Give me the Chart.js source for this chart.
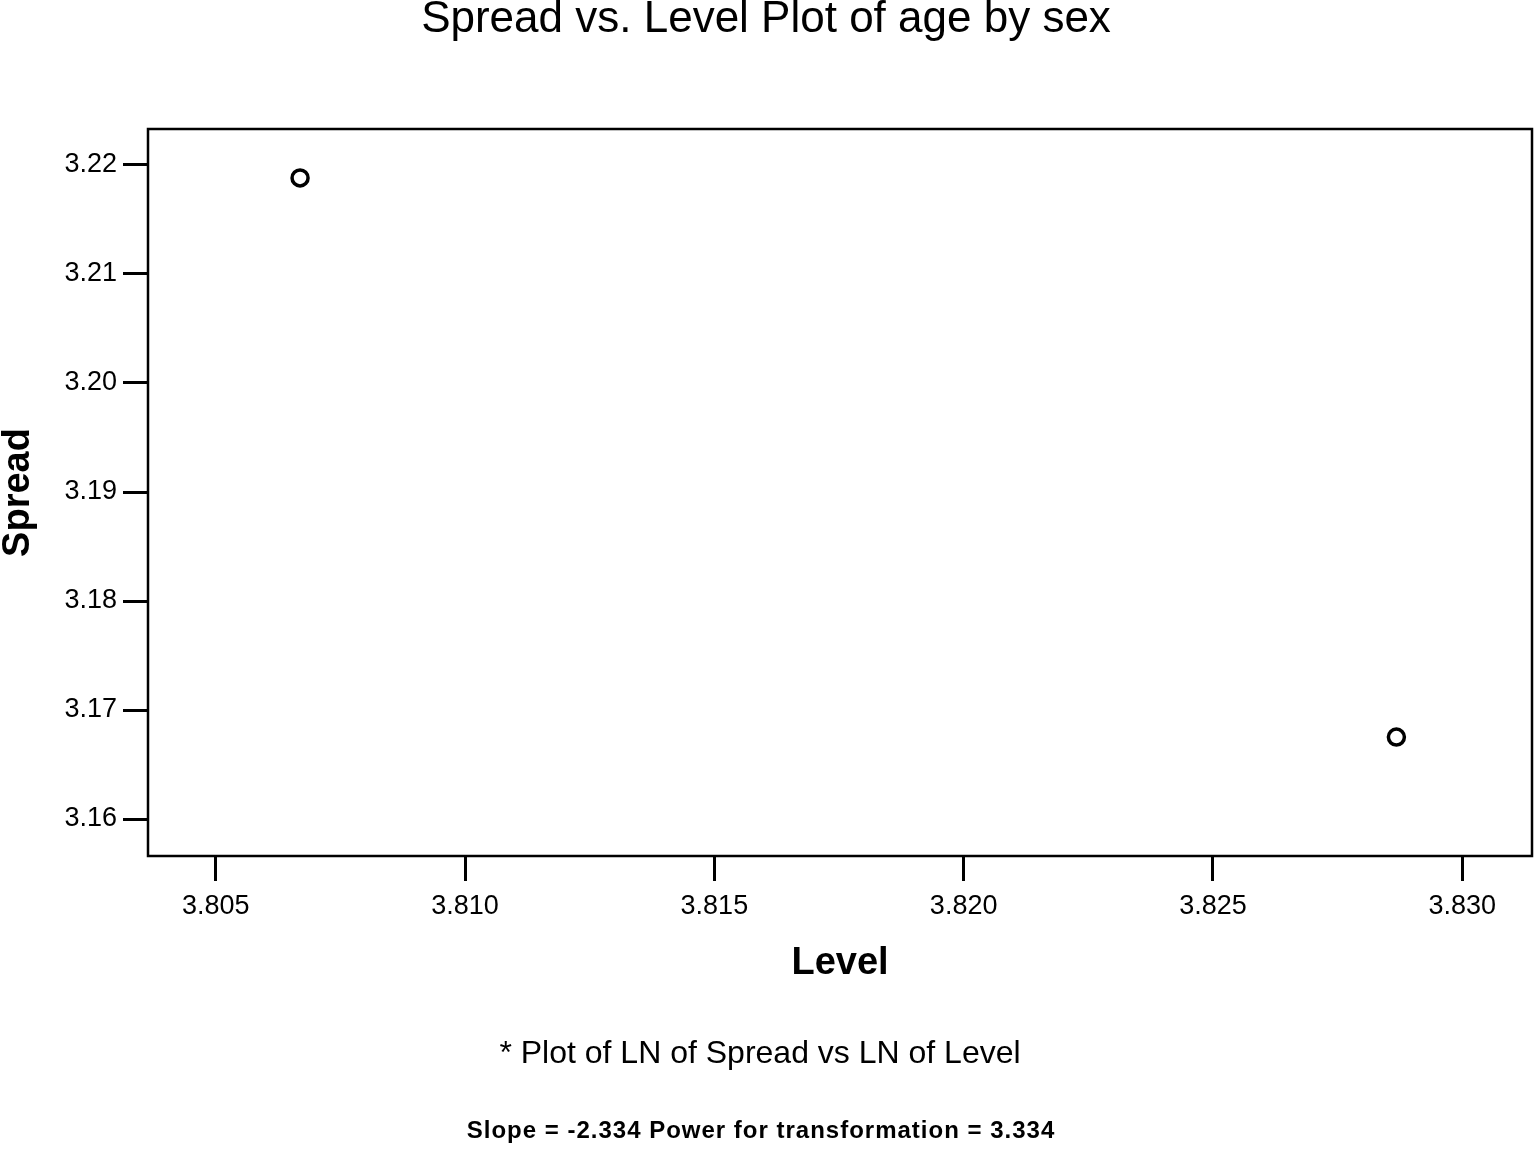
<!DOCTYPE html>
<html>
<head>
<meta charset="utf-8">
<script src="https://cdn.jsdelivr.net/npm/chart.js@4/dist/chart.umd.min.js"></script>
<style>
  html, body { margin: 0; padding: 0; background: #fff; }
  canvas { display: block; }
</style>
</head>
<body>
<canvas id="spreadChart" width="1536" height="1151"></canvas>
<script>
// values
const levelValues = [3.80669, 3.82868];
const spreadValues = [3.21881, 3.16752];
const xTicks = [3.805, 3.810, 3.815, 3.820, 3.825, 3.830];
const yTicks = [3.16, 3.17, 3.18, 3.19, 3.20, 3.21, 3.22];
const noteLine = '* Plot of LN of Spread vs LN of Level';
const slopeLine = 'Slope = -2.334 Power for transformation = 3.334';

const fontFamily = 'Arial, "Liberation Sans", sans-serif';

// frame around the plot area
const frameBox = {
    id: 'frameBox',
    afterDatasetsDraw(chart) {
        const a = chart.chartArea;
        const ctx = chart.ctx;
        ctx.save();
        ctx.strokeStyle = '#000';
        ctx.lineWidth = 2.5;
        ctx.strokeRect(a.left, a.top, a.right - a.left, a.bottom - a.top);
        ctx.restore();
    }
};

// the two footnote lines under the axis
const footNotes = {
    id: 'footNotes',
    afterDraw(chart) {
        const ctx = chart.ctx;
        ctx.save();
        ctx.fillStyle = '#000';
        ctx.textAlign = 'center';
        ctx.textBaseline = 'alphabetic';
        ctx.font = '32px ' + fontFamily;
        ctx.fillText(noteLine, 760, 1063);
        ctx.font = 'bold 24px ' + fontFamily;
        ctx.letterSpacing = '1px';
        ctx.fillText(slopeLine, 761, 1138);
        ctx.restore();
    }
};

const ctx = document.getElementById('spreadChart').getContext('2d');
const spreadChart = new Chart(ctx, {
    type: 'scatter',
    data: {
        datasets: [{
            label: 'Spread vs Level',
            data: levelValues.map((x, i) => ({ x: x, y: spreadValues[i] })),
            pointStyle: 'circle',
            pointRadius: 8,
            pointBorderWidth: 3.5,
            pointBorderColor: '#000',
            pointBackgroundColor: '#fff'
        }]
    },
    options: {
        responsive: false,
        animation: false,
        layout: { autoPadding: false, padding: { left: 0, right: 4, top: 0, bottom: 0 } },
        plugins: {
            legend: { display: false },
            tooltip: { enabled: false },
            title: {
                display: true,
                text: 'Spread vs. Level Plot of age by sex',
                color: '#000',
                font: { family: fontFamily, size: 44, weight: 'normal', lineHeight: 0.9 },
                padding: { top: 0, bottom: 89.4 }
            }
        },
        scales: {
            x: {
                type: 'linear',
                min: 3.80364,
                max: 3.83140,
                afterBuildTicks(scale) { scale.ticks = xTicks.map(v => ({ value: v })); },
                afterFit(scale) { scale.height = 295; },
                ticks: {
                    color: '#000',
                    padding: 9,
                    font: { family: fontFamily, size: 27 },
                    callback: v => v.toFixed(3)
                },
                grid: { drawOnChartArea: false, tickLength: 25, tickWidth: 3, tickColor: '#000' },
                border: { display: false },
                title: {
                    display: true,
                    text: 'Level',
                    color: '#000',
                    font: { family: fontFamily, size: 38, weight: 'bold', lineHeight: 1 },
                    padding: { top: 0, bottom: 168 }
                }
            },
            y: {
                type: 'linear',
                min: 3.15661,
                max: 3.22330,
                afterBuildTicks(scale) { scale.ticks = yTicks.map(v => ({ value: v })); },
                afterFit(scale) { scale.width = 148; },
                ticks: {
                    color: '#000',
                    padding: 6,
                    font: { family: fontFamily, size: 27 },
                    callback: v => v.toFixed(2)
                },
                grid: { drawOnChartArea: false, tickLength: 25, tickWidth: 3, tickColor: '#000' },
                border: { display: false },
                title: {
                    display: true,
                    text: 'Spread',
                    color: '#000',
                    font: { family: fontFamily, size: 38, weight: 'bold', lineHeight: 1 },
                    padding: { top: 0, bottom: 0 }
                }
            }
        }
    },
    plugins: [frameBox, footNotes]
});
</script>
</body>
</html>
